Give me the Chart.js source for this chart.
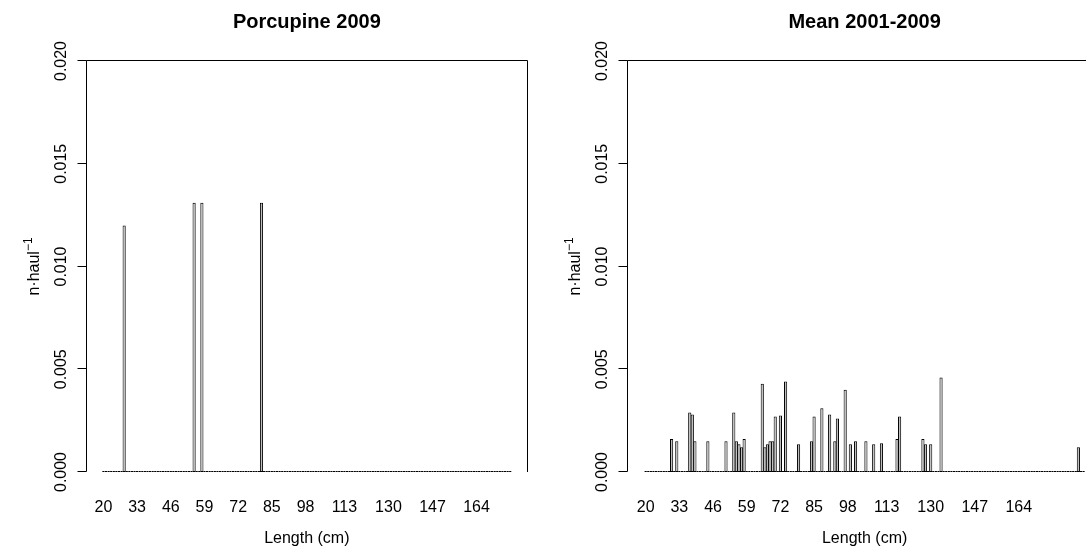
<!DOCTYPE html>
<html>
<head>
<meta charset="utf-8">
<script src="https://cdn.jsdelivr.net/npm/chart.js@4.4.0/dist/chart.umd.min.js"></script>
<style>
  html, body { margin: 0; padding: 0; background: #fff; }
  #wrap { position: relative; width: 1086px; height: 558px; overflow: hidden; background: #fff; }
  canvas { position: absolute; top: 0; }
</style>
</head>
<body>
<div id="wrap">
  <canvas id="porcupine" width="543" height="558" style="left:0"></canvas>
  <canvas id="mean" width="600" height="558" style="left:541px"></canvas>
</div>
<script>
// length classes (cm) shown in each panel: first and last class
const porcRange = [20, 177];
const meanRange = [20, 189];

// labelled classes on the x axis and y axis ticks
const xTickLabels = [20, 33, 46, 59, 72, 85, 98, 113, 130, 147, 164];
const yTicks = [0, 0.005, 0.010, 0.015, 0.020];

// Porcupine 2009, non-empty length classes
const porcLengths = [28, 55, 58, 81];
const porcValues  = [0.0120, 0.0131, 0.0131, 0.0131];

// Mean 2001-2009, non-empty length classes
const meanLengths = [30, 32, 37, 38, 39, 44, 51, 54, 55, 56,
                     57, 58, 65, 66, 67, 68, 69, 70, 72, 74,
                     79, 84, 85, 88, 91, 93, 94, 97, 99, 101,
                     105, 108, 111, 117, 118, 127, 128, 130, 134, 187];
const meanValues  = [0.0016, 0.0015, 0.0029, 0.0028, 0.0015, 0.0015, 0.0015, 0.0029, 0.0015, 0.00135,
                     0.0012, 0.0016, 0.0043, 0.0012, 0.00135, 0.0015, 0.0015, 0.0027, 0.00275, 0.0044,
                     0.00135, 0.0015, 0.0027, 0.0031, 0.0028, 0.0015, 0.0026, 0.0040, 0.00135, 0.0015,
                     0.0015, 0.00135, 0.0014, 0.0016, 0.0027, 0.0016, 0.00135, 0.00135, 0.0046, 0.0012];

const PITCH = 2.591;                 // px per 1 cm class
const MARGIN = { left: 86, top: 61, bottom: 86 };
const FONT = '"Liberation Sans", Arial, sans-serif';

// one entry per class, empty classes get 0
function classSeries(range, lengths, values) {
    const data = [];
    for (let len = range[0]; len <= range[1]; len++) {
        const k = lengths.indexOf(len);
        data.push({ x: len, y: k >= 0 ? values[k] : 0 });
    }
    return data;
}

// axes, box and labels in base-graphics style
const rStyle = {
    id: 'rStyle',
    afterDraw(chart, args, opts) {
        const ctx = chart.ctx;
        const area = chart.chartArea;
        const xs = chart.scales.x, ys = chart.scales.y;
        const yBase = ys.getPixelForValue(0);
        const yTop = ys.getPixelForValue(yTicks[yTicks.length - 1]);
        const axisX = area.left + 0.5;
        const rightX = Math.round(area.right) - 0.5;

        ctx.save();
        ctx.strokeStyle = '#000';
        ctx.lineWidth = 1;

        // empty classes still leave their outline on the base line
        chart.getDatasetMeta(0).data.forEach(bar => {
            const half = (bar.width - 1) / 2;
            ctx.beginPath();
            ctx.moveTo(bar.x - half, yBase - 0.5);
            ctx.lineTo(bar.x + half, yBase - 0.5);
            ctx.stroke();
        });

        // top and right sides of the box
        ctx.beginPath();
        ctx.moveTo(axisX, yTop - 0.5);
        ctx.lineTo(rightX, yTop - 0.5);
        ctx.lineTo(rightX, yBase);
        ctx.stroke();

        // y axis with outward ticks
        ctx.beginPath();
        ctx.moveTo(axisX, yTop - 0.5);
        ctx.lineTo(axisX, yBase - 0.5);
        yTicks.forEach(v => {
            const py = Math.round(ys.getPixelForValue(v)) - 0.5;
            ctx.moveTo(axisX - 9, py);
            ctx.lineTo(axisX, py);
        });
        ctx.stroke();

        ctx.fillStyle = '#000';
        ctx.font = '16px ' + FONT;
        ctx.textAlign = 'center';
        ctx.textBaseline = 'alphabetic';
        yTicks.forEach(v => {
            ctx.save();
            ctx.translate(area.left - 26, ys.getPixelForValue(v));
            ctx.rotate(-Math.PI / 2);
            ctx.fillText(v.toFixed(3), 0, 5.7);
            ctx.restore();
        });

        // class labels below the bars
        xTickLabels.forEach(v => ctx.fillText(String(v), xs.getPixelForValue(v), 512));
        ctx.fillText('Length (cm)', (area.left + area.right) / 2, 543);

        // y title: n·haul^-1
        ctx.save();
        ctx.translate(area.left - 53, (area.top + area.bottom) / 2);
        ctx.rotate(-Math.PI / 2);
        ctx.font = '16px ' + FONT;
        const main = 'n\u00b7haul';
        const w1 = ctx.measureText(main).width;
        ctx.font = '12px ' + FONT;
        const sup = '\u22121';
        const w2 = ctx.measureText(sup).width;
        ctx.textAlign = 'left';
        ctx.font = '16px ' + FONT;
        ctx.fillText(main, -(w1 + w2) / 2, 5.7);
        ctx.font = '12px ' + FONT;
        ctx.fillText(sup, -(w1 + w2) / 2 + w1, -1.5);
        ctx.restore();

        // panel title
        ctx.font = 'bold 20px ' + FONT;
        ctx.textAlign = 'center';
        ctx.fillText(opts.title, (area.left + area.right) / 2, 28);
        ctx.restore();
    }
};

function makePanel(canvasId, title, range, lengths, values) {
    const canvas = document.getElementById(canvasId);
    const n = range[1] - range[0] + 1;
    // barplot limits: bars spaced 0.2, range extended 4% each side
    const pad = (0.5 + 0.04 * (1.2 * n - 0.2)) / 1.2;
    const plotWidth = (n - 1 + 2 * pad) * PITCH;
    return new Chart(canvas, {
        type: 'bar',
        data: {
            datasets: [{
                data: classSeries(range, lengths, values),
                backgroundColor: '#bebebe',
                borderColor: '#000',
                borderWidth: 1,
                borderSkipped: false,
                categoryPercentage: 1,
                barPercentage: 1.22
            }]
        },
        options: {
            responsive: false,
            animation: false,
            events: [],
            layout: {
                padding: {
                    left: MARGIN.left,
                    top: MARGIN.top,
                    bottom: MARGIN.bottom,
                    right: canvas.width - MARGIN.left - plotWidth
                }
            },
            scales: {
                x: {
                    type: 'linear',
                    display: false,
                    offset: false,
                    grid: { offset: false },
                    bounds: 'data',
                    min: range[0] - pad,
                    max: range[1] + pad,
                    afterBuildTicks: s => { s.ticks = xTickLabels.map(v => ({ value: v })); }
                },
                y: { display: false, min: 0, max: 0.02 }
            },
            plugins: {
                legend: { display: false },
                tooltip: { enabled: false },
                rStyle: { title: title }
            }
        },
        plugins: [rStyle]
    });
}

makePanel('porcupine', 'Porcupine 2009', porcRange, porcLengths, porcValues);
makePanel('mean', 'Mean 2001-2009', meanRange, meanLengths, meanValues);
</script>
</body>
</html>
